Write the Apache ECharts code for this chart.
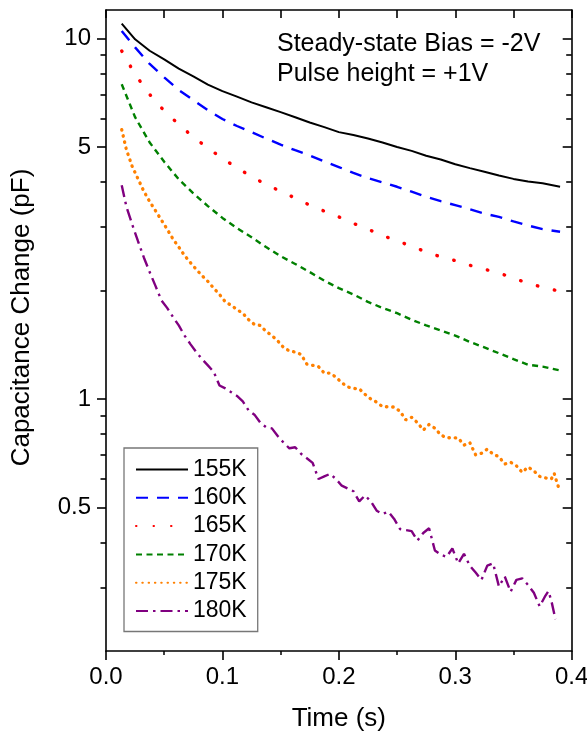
<!DOCTYPE html>
<html>
<head>
<meta charset="utf-8">
<script src="https://cdn.jsdelivr.net/npm/echarts@6/dist/echarts.min.js"></script>
<style>
  html, body { margin: 0; padding: 0; background: #fff; }
  #chart { width: 587px; height: 735px; }
</style>
</head>
<body>
<div id="chart"></div>
<script>
// Capacitance transients after a +1 V pulse, one curve per temperature.
const FONT = '"Liberation Sans", Arial, Helvetica, sans-serif';

const seriesNames = ['155K', '160K', '165K', '170K', '175K', '180K'];

// Shared time base (s) for the smooth curves
const timeGrid = [0.0135, 0.025, 0.0375, 0.05, 0.0625, 0.075, 0.0875, 0.1, 0.1125, 0.125,
  0.1375, 0.15, 0.1625, 0.175, 0.1875, 0.2, 0.2125, 0.225, 0.2375, 0.25,
  0.2625, 0.275, 0.2875, 0.3, 0.3125, 0.325, 0.3375, 0.35, 0.3625, 0.375, 0.39];

// Capacitance change (pF)
const cap155 = [11.0, 9.95, 9.25, 8.75, 8.25, 7.85, 7.45, 7.15, 6.9, 6.65,
  6.45, 6.25, 6.05, 5.85, 5.68, 5.5, 5.4, 5.28, 5.15, 5.0,
  4.88, 4.73, 4.62, 4.48, 4.37, 4.27, 4.17, 4.08, 4.01, 3.97, 3.88];
const cap160 = [10.5, 9.45, 8.5, 7.8, 7.2, 6.75, 6.33, 5.98, 5.72, 5.5,
  5.28, 5.08, 4.9, 4.74, 4.56, 4.4, 4.24, 4.1, 3.99, 3.88,
  3.76, 3.64, 3.54, 3.45, 3.36, 3.27, 3.2, 3.11, 3.03, 2.96, 2.91];
const cap165 = [9.24, 7.95, 7.0, 6.3, 5.78, 5.33, 4.97, 4.65, 4.38, 4.14,
  3.94, 3.77, 3.61, 3.45, 3.32, 3.2, 3.07, 2.96, 2.84, 2.75,
  2.65, 2.56, 2.48, 2.42, 2.35, 2.29, 2.24, 2.16, 2.1, 2.04, 1.99];
const cap170 = [7.47, 6.05, 5.15, 4.55, 4.07, 3.72, 3.43, 3.18, 2.98, 2.81,
  2.64, 2.49, 2.37, 2.25, 2.13, 2.03, 1.95, 1.86, 1.79, 1.73,
  1.66, 1.6, 1.55, 1.5, 1.44, 1.39, 1.34, 1.29, 1.245, 1.23, 1.2];

// Finer sampling for the noisier high-temperature curves
const time175 = [0.0135, 0.0175, 0.0225, 0.0275, 0.0325, 0.0375, 0.0425, 0.0475, 0.0525, 0.0575,
  0.0625, 0.0675, 0.0725, 0.0775, 0.0825, 0.0875, 0.0925, 0.0975, 0.1025, 0.1075,
  0.1125, 0.1175, 0.1225, 0.1275, 0.1325, 0.1375, 0.1425, 0.1475, 0.1525, 0.1575,
  0.1625, 0.1675, 0.1725, 0.1775, 0.1825, 0.1875, 0.1925, 0.1975, 0.2025, 0.2075,
  0.2125, 0.2175, 0.2225, 0.2275, 0.2325, 0.2375, 0.2425, 0.2475, 0.2525, 0.2575,
  0.2625, 0.2675, 0.2725, 0.2775, 0.2825, 0.2875, 0.2925, 0.2975, 0.3025, 0.3075,
  0.3125, 0.3175, 0.3225, 0.3275, 0.3325, 0.3375, 0.3425, 0.3475, 0.3525, 0.3575,
  0.3625, 0.3675, 0.3725, 0.3775, 0.3825, 0.385, 0.3875, 0.3895];
const cap175 = [5.59, 4.92, 4.42, 4.08, 3.77, 3.53, 3.33, 3.14, 2.96, 2.78,
  2.64, 2.5, 2.39, 2.29, 2.2, 2.12, 2.03, 1.95, 1.86, 1.82,
  1.77, 1.73, 1.66, 1.61, 1.6, 1.54, 1.5, 1.45, 1.39, 1.36,
  1.35, 1.33, 1.25, 1.24, 1.23, 1.18, 1.18, 1.15, 1.11, 1.08,
  1.07, 1.068, 1.03, 1.0, 0.98, 0.952, 0.952, 0.95, 0.925, 0.875,
  0.89, 0.86, 0.82, 0.85, 0.83, 0.795, 0.781, 0.781, 0.78, 0.745,
  0.757, 0.70, 0.707, 0.726, 0.703, 0.692, 0.66, 0.668, 0.653, 0.626,
  0.648, 0.632, 0.61, 0.604, 0.60, 0.622, 0.584, 0.56];

const time180 = [0.0135, 0.0175, 0.0225, 0.0275, 0.0325, 0.0375, 0.0425, 0.0475, 0.0525, 0.0575,
  0.0625, 0.0675, 0.0725, 0.0775, 0.0825, 0.0875, 0.0925, 0.0975, 0.1025, 0.1075,
  0.1125, 0.1175, 0.1225, 0.1275, 0.1325, 0.1375, 0.1425, 0.1475, 0.1525, 0.1575,
  0.1625, 0.1675, 0.1725, 0.1775, 0.1825, 0.1875, 0.1925, 0.1975, 0.2025, 0.2075,
  0.2125, 0.2175, 0.2225, 0.2275, 0.2325, 0.2375, 0.2425, 0.2475, 0.2525, 0.2575,
  0.2625, 0.2675, 0.2725, 0.2775, 0.2825, 0.2875, 0.2925, 0.2975, 0.3025, 0.3075,
  0.3125, 0.3175, 0.3225, 0.3275, 0.3325, 0.3375, 0.3425, 0.3475, 0.3525, 0.3575,
  0.3625, 0.3675, 0.3725, 0.3775, 0.38, 0.3825, 0.386];
const cap180 = [3.92, 3.42, 3.05, 2.74, 2.47, 2.25, 2.06, 1.88, 1.79, 1.69,
  1.6, 1.5, 1.42, 1.35, 1.29, 1.24, 1.19, 1.09, 1.07, 1.045,
  1.02, 0.985, 0.93, 0.905, 0.86, 0.835, 0.829, 0.79, 0.757, 0.73,
  0.735, 0.705, 0.685, 0.665, 0.60, 0.61, 0.62, 0.60, 0.575, 0.565,
  0.555, 0.52, 0.54, 0.52, 0.49, 0.48, 0.487, 0.465, 0.436, 0.433,
  0.43, 0.405, 0.425, 0.438, 0.38, 0.37, 0.365, 0.385, 0.35, 0.372,
  0.345, 0.33, 0.315, 0.345, 0.35, 0.302, 0.322, 0.292, 0.315, 0.318,
  0.305, 0.29, 0.266, 0.285, 0.293, 0.276, 0.245];

// Axis ranges and tick values
const xRange = [0, 0.4];
const yRange = [0.2, 12];
const yMajorTicks = [0.5, 1, 5, 10];
const yMinorTicks = [0.3, 0.4, 0.6, 0.7, 0.8, 0.9, 2, 3, 4, 6, 7, 8, 9];

const lg = Math.log10;
const zip = (t, c) => t.map((x, i) => [x, c[i]]);
const black = '#000';

const lineStyles = [
  { color: '#000000', width: 2, type: 'solid' },
  { color: '#0000ff', width: 2.4, type: [12, 9] },
  { color: '#ff0000', width: 3.4, type: [0.5, 17], cap: 'round' },
  { color: '#008000', width: 2.4, type: [6, 4.5] },
  { color: '#ff8000', width: 3.3, type: [0.5, 5.8], cap: 'round' },
  { color: '#800080', width: 2.4, type: [12, 5, 2.5, 5] }
];
const seriesData = [
  zip(timeGrid, cap155),
  zip(timeGrid, cap160),
  zip(timeGrid, cap165),
  zip(timeGrid, cap170),
  zip(time175, cap175),
  zip(time180, cap180)
];

// Decorative linear axes laid over the log axis (in log10 units) for ticks/labels
function tickAxis(position, values, len, inside, withLine, withLabels, extra) {
  return Object.assign({
    type: 'value',
    position: position,
    min: lg(yRange[0]),
    max: lg(yRange[1]),
    axisLine: { show: withLine, lineStyle: { color: black, width: 1.6 } },
    axisTick: { show: true, inside: inside, length: len, customValues: values.map(lg),
      lineStyle: { color: black, width: 1.6 } },
    axisLabel: withLabels ? {
      show: true, customValues: values.map(lg), margin: 15,
      fontSize: 24, fontFamily: FONT, color: black,
      formatter: v => String(Number(Math.pow(10, v).toPrecision(2)))
    } : { show: false },
    splitLine: { show: false },
    minorTick: { show: false }
  }, extra || {});
}

const chart = echarts.init(document.getElementById('chart'), null, { renderer: 'canvas' });

chart.setOption({
  animation: false,
  backgroundColor: '#fff',
  grid: { left: 106, right: 15.3, top: 10, bottom: 84, outerBoundsMode: 'none' },
  legend: {
    orient: 'vertical',
    left: 124, top: 448,
    padding: [10, 11, 9, 11],
    itemWidth: 52, itemHeight: 14, itemGap: 5.3,
    borderColor: '#777', borderWidth: 1.3, backgroundColor: '#fff',
    itemStyle: { opacity: 0 },
    textStyle: { fontSize: 23, lineHeight: 23, fontFamily: FONT, color: black },
    data: seriesNames
  },
  graphic: [{
    type: 'text', left: 277, top: 29, z: 10,
    style: {
      text: 'Steady-state Bias = -2V\nPulse height = +1V',
      font: '25px ' + FONT, lineHeight: 30, fill: black
    }
  }],
  xAxis: [
    {
      type: 'value', position: 'bottom', min: xRange[0], max: xRange[1], interval: 0.1,
      axisLine: { show: true, onZero: false, lineStyle: { color: black, width: 1.6 } },
      axisTick: { show: true, inside: false, length: 9, lineStyle: { color: black, width: 1.6 } },
      minorTick: { show: true, splitNumber: 2, length: 4, lineStyle: { color: black, width: 1.5 } },
      axisLabel: { margin: 14, fontSize: 24, fontFamily: FONT, color: black,
        formatter: v => v.toFixed(1) },
      splitLine: { show: false },
      name: 'Time (s)', nameLocation: 'middle', nameGap: 55,
      nameTextStyle: { fontSize: 26, fontFamily: FONT, color: black }
    },
    {
      type: 'value', position: 'top', min: xRange[0], max: xRange[1], interval: 0.05,
      axisLine: { show: true, onZero: false, lineStyle: { color: black, width: 1.6 } },
      axisTick: { show: true, inside: true, length: 8, lineStyle: { color: black, width: 1.6 } },
      axisLabel: { show: false },
      splitLine: { show: false }
    }
  ],
  yAxis: [
    { type: 'log', logBase: 10, min: yRange[0], max: yRange[1], position: 'left', show: false },
    tickAxis('left', yMajorTicks, 9, false, true, true, {
      name: 'Capacitance Change (pF)', nameLocation: 'middle', nameGap: 71,
      nameTextStyle: { fontSize: 26, fontFamily: FONT, color: black, padding: [0, 0, 0, 26] }
    }),
    tickAxis('left', yMinorTicks, 5.5, false, false, false),
    tickAxis('right', yMajorTicks, 9, true, true, false),
    tickAxis('right', yMinorTicks, 5.5, true, false, false)
  ],
  series: seriesNames.map((name, i) => ({
    name: name,
    type: 'line',
    xAxisIndex: 0,
    yAxisIndex: 0,
    data: seriesData[i],
    showSymbol: false,
    symbol: 'none',
    smooth: false,
    color: lineStyles[i].color,
    lineStyle: lineStyles[i]
  }))
});
</script>
</body>
</html>
